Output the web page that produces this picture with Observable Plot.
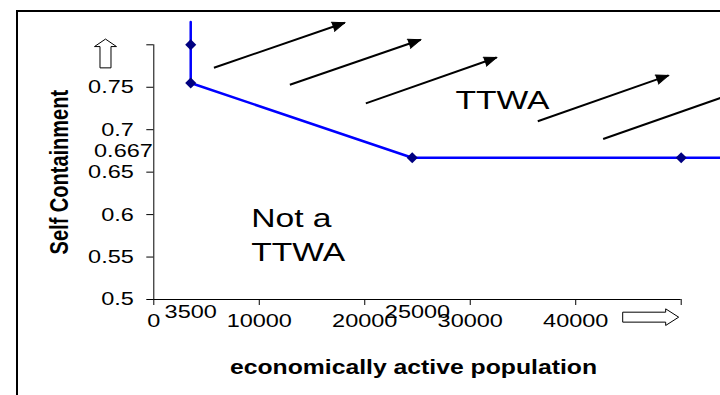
<!DOCTYPE html>
<html><head><meta charset="utf-8">
<script src="https://cdn.jsdelivr.net/npm/d3@7"></script>
<script src="https://cdn.jsdelivr.net/npm/@observablehq/plot@0.6"></script>
<style>
html,body{margin:0;padding:0;background:#fff;overflow:hidden;width:720px;height:395px;}
#frame{position:absolute;left:16px;top:10px;width:800px;height:500px;border:2px solid #000;box-sizing:border-box;}
#chart{position:absolute;left:0;top:0;}
</style></head><body>
<div id="frame"></div><div id="chart"></div>
<script>
// ---- data ----
const xTicks = [0, 10000, 20000, 30000, 40000, 50000];
const xTickLabels = ["0", "10000", "20000", "30000", "40000", ""];
const xExtraTicks = [3500, 25000];
const xExtraLabels = ["3500", "25000"];
const yTicks = [0.5, 0.55, 0.6, 0.65, 0.7, 0.75, 0.8];
const yTickLabels = ["0.5", "0.55", "0.6", "0.65", "0.7", "0.75", ""];
const yExtraTicks = [0.667];
const yExtraLabels = ["0.667"];
const lineX = [3500, 3500, 3500, 24500, 50000, 56000];
const lineY = [0.827, 0.8, 0.755, 0.667, 0.667, 0.667];
const pointX = [3500, 3500, 24500, 50000];
const pointY = [0.8, 0.755, 0.667, 0.667];
const arrowX1 = [5700, 12900, 20100, 36400, 42600];
const arrowY1 = [0.773, 0.753, 0.731, 0.710, 0.689];
const arrowX2 = [18100, 25300, 32500, 48800, 55000];
const arrowY2 = [0.826, 0.806, 0.785, 0.764, 0.743];
const regionLabels = ["TTWA", "Not a\nTTWA"];
const regionX = [28600, 9230];
const regionY = [0.737, 0.578];
const upArrowX = [-4580], upArrowY = [0.7733];
const rightArrowX = [44490], rightArrowY = [0.4792];
const xTitle = "economically active population";
const yTitle = "Self Containment";

// ---- layout ----
const W = 720, H = 395, ML = 153.3, MR = 39.3, MT = 44.3, MB = 96;
const SX = 1.27; // horizontal text stretch seen in the reference
const xs = d3.scaleLinear([0, 50000], [ML, W - MR]);
const ys = d3.scaleLinear([0.5, 0.8], [H - MB, MT]);
const arrowRot = arrowX1.map((x1, i) =>
  Math.atan2(xs(arrowX2[i]) - xs(x1), -(ys(arrowY2[i]) - ys(arrowY1[i]))) * 180 / Math.PI);

function blockArrow(headLen, shaftRatio) {
  return {
    draw(ctx, l, r) {
      const s = r * shaftRatio, b = -(l - headLen);
      ctx.moveTo(-s, 0); ctx.lineTo(-s, b); ctx.lineTo(-r, b); ctx.lineTo(0, -l);
      ctx.lineTo(r, b); ctx.lineTo(s, b); ctx.lineTo(s, 0); ctx.closePath();
    }
  };
}
const font = "'Liberation Sans', Arial, Helvetica, sans-serif";

const chart = Plot.plot({
  width: W, height: H,
  marginLeft: ML, marginRight: MR, marginTop: MT, marginBottom: MB,
  style: {background: "transparent", color: "#000", fontFamily: font, overflow: "visible"},
  x: {domain: [0, 50000]},
  y: {domain: [0.5, 0.8]},
  marks: [
    Plot.ruleY([0.5], {x1: 0, x2: 50000, stroke: "#000", strokeWidth: 1}),
    Plot.ruleX([0], {y1: 0.5, y2: 0.8, stroke: "#000", strokeWidth: 1}),
    Plot.axisX({ticks: xTicks, tickFormat: d => xTickLabels[xTicks.indexOf(d)], tickSize: 6, tickPadding: 8, fontSize: 18.5, label: null}),
    Plot.axisY({ticks: yTicks, tickFormat: d => yTickLabels[yTicks.indexOf(d)], tickSize: 7, tickPadding: 13, fontSize: 18.5, label: null}),
    Plot.text(xExtraLabels, {x: xExtraTicks, frameAnchor: "bottom", dy: 12.5, text: d => d, fontSize: 18.5, textAnchor: "middle", lineAnchor: "middle"}),
    Plot.text(yExtraLabels, {y: yExtraTicks, frameAnchor: "left", textAnchor: "end", lineAnchor: "middle", dx: -1, dy: -7, text: d => d, fontSize: 18.5}),
    Plot.text([xTitle], {frameAnchor: "bottom", dx: -4, dy: 68, text: d => d, fontSize: 19.5, fontWeight: "bold", textAnchor: "middle", lineAnchor: "middle"}),
    Plot.text([yTitle], {frameAnchor: "left", rotate: -90, dx: -94.3, text: d => d, fontSize: 20, fontWeight: "bold", textAnchor: "middle", lineAnchor: "middle"}),
    Plot.link(arrowX1, {x1: arrowX1, y1: arrowY1, x2: arrowX2, y2: arrowY2, stroke: "#000", strokeWidth: 2, strokeLinecap: "butt"}),
    Plot.vector(arrowX2, {x: arrowX2, y: arrowY2, rotate: arrowRot, length: 12.5, r: 4.8, shape: "spike", anchor: "end", fill: "#000", stroke: "#000", strokeWidth: 1, strokeLinejoin: "miter"}),
    Plot.vector(upArrowX, {x: upArrowX, y: upArrowY, rotate: 0, length: 28.4, r: 11, shape: blockArrow(7.5, 0.5), anchor: "start", fill: "#fff", stroke: "#000", strokeWidth: 1, strokeLinejoin: "miter"}),
    Plot.vector(rightArrowX, {x: rightArrowX, y: rightArrowY, rotate: 90, length: 55.6, r: 8.3, shape: blockArrow(13, 0.6), anchor: "start", fill: "#fff", stroke: "#000", strokeWidth: 1, strokeLinejoin: "miter"}),
    Plot.line(lineX, {x: lineX, y: lineY, stroke: "#0000ff", strokeWidth: 2.5}),
    Plot.dot(pointX, {x: pointX, y: pointY, symbol: "diamond2", r: 5, fill: "#000080", stroke: "none"}),
    Plot.text(regionLabels, {x: regionX, y: regionY, text: d => d, textAnchor: "start", lineAnchor: "middle", fontSize: 26.5, lineHeight: 1.29, fill: "#000"})
  ]
});

// stretch text horizontally like the reference
chart.querySelectorAll("text").forEach(t => {
  const tr = t.getAttribute("transform");
  if (tr && /translate\(/.test(tr)) {
    t.setAttribute("transform", tr.replace(/translate\([^)]*\)/, m => `${m} scale(${SX},1)`));
  } else {
    const x = parseFloat(t.getAttribute("x")) || 0;
    t.removeAttribute("x");
    t.setAttribute("transform", `${tr || ""} translate(${x},0) scale(${SX},1)`);
  }
});
document.getElementById("chart").appendChild(chart);
</script>
</body></html>
